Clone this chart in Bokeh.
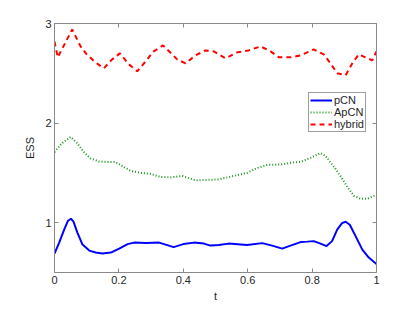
from bokeh.plotting import figure
from bokeh.models import LinearAxis, Legend, LegendItem, FixedTicker, Range1d
from bokeh.embed import file_html
from bokeh.resources import INLINE

t_pcn = [0.0, 0.0146, 0.030, 0.042, 0.051, 0.059, 0.071, 0.087, 0.108, 0.128, 0.149, 0.175,
         0.201, 0.227, 0.247, 0.284, 0.325, 0.345, 0.37, 0.40, 0.433, 0.464, 0.484, 0.51,
         0.541, 0.598, 0.645, 0.676, 0.707, 0.733, 0.764, 0.785, 0.805, 0.826, 0.845, 0.862,
         0.878, 0.893, 0.904, 0.917, 0.935, 0.956, 0.976, 1.0]
v_pcn = [0.69, 0.80, 0.93, 1.02, 1.04, 1.01, 0.90, 0.78, 0.72, 0.70, 0.69, 0.70,
         0.74, 0.785, 0.80, 0.795, 0.80, 0.78, 0.755, 0.785, 0.80, 0.79, 0.77, 0.775,
         0.79, 0.775, 0.795, 0.77, 0.74, 0.77, 0.805, 0.81, 0.815, 0.79, 0.765, 0.815,
         0.93, 0.995, 1.01, 0.98, 0.865, 0.73, 0.65, 0.585]

t_apcn = [0.0, 0.024, 0.05, 0.07, 0.091, 0.112, 0.138, 0.164, 0.189, 0.21, 0.236, 0.267, 0.298,
          0.329, 0.36, 0.397, 0.41, 0.438, 0.474, 0.51, 0.557, 0.598, 0.63, 0.661, 0.702,
          0.743, 0.764, 0.795, 0.826, 0.842, 0.868, 0.888, 0.909, 0.930, 0.950, 0.971,
          0.987, 1.0]
v_apcn = [1.71, 1.80, 1.86, 1.80, 1.71, 1.645, 1.615, 1.61, 1.61, 1.57, 1.52, 1.50, 1.49,
          1.46, 1.455, 1.47, 1.455, 1.425, 1.43, 1.435, 1.47, 1.50, 1.55, 1.58, 1.585,
          1.605, 1.61, 1.65, 1.70, 1.67, 1.56, 1.47, 1.36, 1.27, 1.24, 1.24,
          1.26, 1.28]

t_hyb = [0.0, 0.01, 0.055, 0.081, 0.10, 0.127, 0.153, 0.179, 0.203, 0.231, 0.257, 0.283, 0.308,
         0.337, 0.381, 0.407, 0.438, 0.469, 0.495, 0.531, 0.567, 0.603, 0.64, 0.671, 0.697,
         0.733, 0.764, 0.805, 0.836, 0.857, 0.878, 0.904, 0.925, 0.945, 0.966, 0.987, 1.0]
v_hyb = [2.82, 2.66, 2.94, 2.77, 2.69, 2.61, 2.55, 2.64, 2.70, 2.59, 2.52, 2.62, 2.72,
         2.78, 2.64, 2.60, 2.68, 2.73, 2.72, 2.65, 2.71, 2.73, 2.77, 2.72, 2.66,
         2.66, 2.68, 2.74, 2.69, 2.60, 2.50, 2.48, 2.60, 2.69, 2.66, 2.63, 2.72]

x_ticks = [0, 0.2, 0.4, 0.6, 0.8, 1]
y_ticks = [1, 2, 3]
series_names = ["pCN", "ApCN", "hybrid"]

AX = "#8a8a8a"
TXT = "#262626"
FONT = "Liberation Sans"

p = figure(width=407, height=304, output_backend="svg", toolbar_location=None,
           x_range=Range1d(0, 1), y_range=Range1d(0.5, 3),
           min_border_left=54, min_border_top=23, min_border_right=31, min_border_bottom=27,
           x_axis_label="t", y_axis_label="ESS")
p.outline_line_color = None
p.grid.visible = False
p.background_fill_color = "white"
p.border_fill_color = "white"


def style_axis(ax, show_labels):
    ax.axis_line_color = AX
    ax.axis_line_width = 1
    ax.major_tick_line_color = AX
    ax.major_tick_in = 4
    ax.major_tick_out = 0
    ax.minor_tick_in = 0
    ax.minor_tick_out = 0
    ax.major_label_text_font = FONT
    ax.major_label_text_font_size = "11px"
    ax.major_label_text_color = TXT
    ax.major_label_standoff = 3
    ax.axis_label_text_font = FONT
    ax.axis_label_text_font_size = "11px"
    ax.axis_label_text_font_style = "normal"
    ax.axis_label_text_color = TXT
    ax.axis_label_standoff = 1


p.xaxis.ticker = FixedTicker(ticks=x_ticks)
p.yaxis.ticker = FixedTicker(ticks=y_ticks)
style_axis(p.xaxis[0], True)
style_axis(p.yaxis[0], True)
p.xaxis.axis_label_standoff = 3
p.yaxis.axis_label_standoff = 6

top = LinearAxis(ticker=FixedTicker(ticks=x_ticks),
                 major_label_overrides={tk: "" for tk in x_ticks})
style_axis(top, False)
top.major_label_standoff = 0
p.add_layout(top, "above")
right = LinearAxis(ticker=FixedTicker(ticks=y_ticks),
                   major_label_overrides={tk: "" for tk in y_ticks})
style_axis(right, False)
right.major_label_standoff = 0
p.add_layout(right, "right")

r1 = p.line(t_pcn, v_pcn, line_color="#0000ff", line_width=2)
r2 = p.line(t_apcn, v_apcn, line_color="#1a961a", line_width=2, line_dash="1 2")
r3 = p.line(t_hyb, v_hyb, line_color="#ff0000", line_width=2, line_dash="5 4")

legend = Legend(items=[LegendItem(label=series_names[0], renderers=[r1]),
                       LegendItem(label=series_names[1], renderers=[r2]),
                       LegendItem(label=series_names[2], renderers=[r3])],
                location=(254, 140))
legend.label_text_font = FONT
legend.label_text_font_size = "11px"
legend.label_text_color = TXT
legend.label_height = 10
legend.label_standoff = 2
legend.glyph_width = 22
legend.glyph_height = 10
legend.spacing = 0
legend.padding = 1
legend.margin = 0
legend.border_line_color = "#404040"
legend.border_line_width = 1
legend.background_fill_color = "white"
p.add_layout(legend, "center")

open("out.html", "w").write(file_html(p, INLINE))
